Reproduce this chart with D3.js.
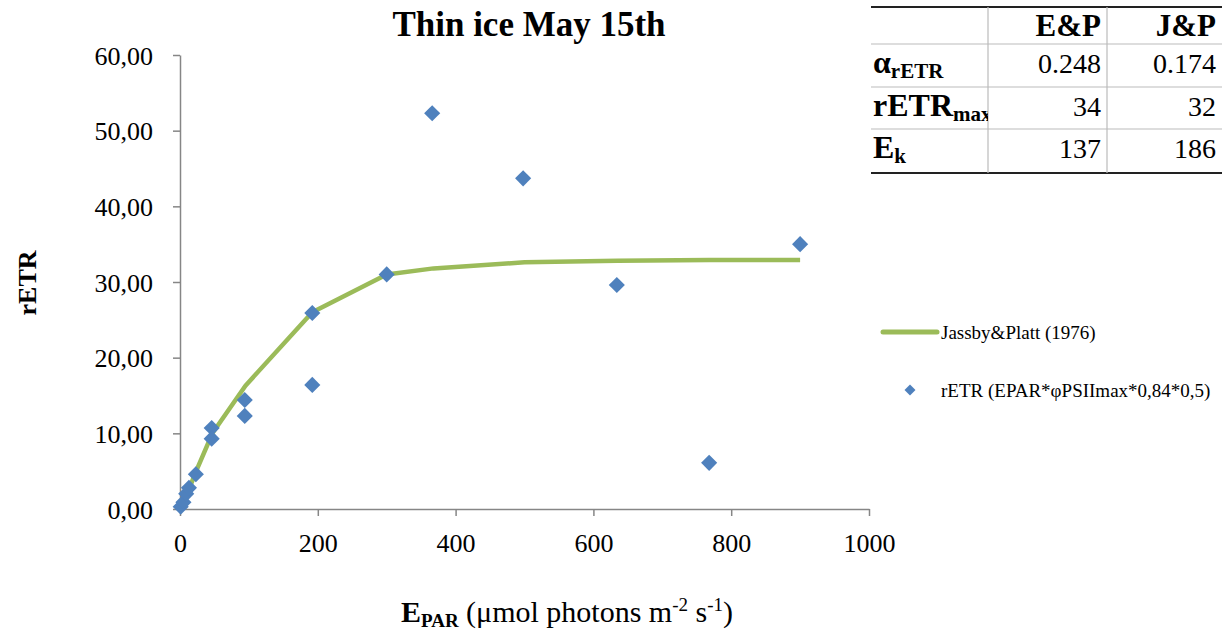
<!DOCTYPE html>
<html>
<head>
<meta charset="utf-8">
<script src="https://cdn.jsdelivr.net/npm/d3@7"></script>
<style>
  body { margin: 0; background: #fff; }
  svg { display: block; font-family: "Liberation Serif", "DejaVu Serif", serif; }
</style>
</head>
<body>
<svg id="chart" width="1230" height="639"></svg>
<script>
// measured points, E_PAR vs rETR
const epar = [1, 5, 9, 13, 23, 46, 46, 94, 94, 192, 192, 300, 366, 498, 634, 768, 900];
const retr = [0.3, 0.9, 2.0, 2.8, 4.6, 10.7, 9.3, 14.4, 12.3, 25.9, 16.4, 31.0, 52.3, 43.7, 29.6, 6.1, 35.0];

// Jassby & Platt fit, drawn at the measured light levels
const fitX = [0, 5, 10, 23, 47, 95, 192, 300, 368, 500, 635, 768, 900];
const fitY = [0.2, 1.0, 1.9, 4.9, 10.0, 16.3, 26.0, 31.0, 31.8, 32.6, 32.8, 32.9, 32.9];

const xTicks = [0, 200, 400, 600, 800, 1000];
const yTicks = [0, 10, 20, 30, 40, 50, 60];

// parameter table
const tableCols = ["E&P", "J&P"];
const tableRows = [
  { label: "α", sub: "rETR", vals: ["0.248", "0.174"] },
  { label: "rETR", sub: "max", vals: ["34", "32"] },
  { label: "E", sub: "k", vals: ["137", "186"] }
];

const svg = d3.select("#chart");
const x = d3.scaleLinear().domain([0, 1000]).range([180, 869]);
const y = d3.scaleLinear().domain([0, 60]).range([509, 55]);
const axisColor = "#868686";
const green = "#9BBB59";
const blue = "#4F81BD";

// title
svg.append("text")
  .attr("x", 529).attr("y", 36)
  .attr("text-anchor", "middle")
  .attr("font-size", 35).attr("font-weight", "bold")
  .text("Thin ice May 15th");

// axes
const yAxis = svg.append("g")
  .attr("transform", `translate(${x(0)},0)`)
  .call(d3.axisLeft(y).tickValues(yTicks).tickSize(7).tickSizeOuter(0)
    .tickFormat(d => d3.format(".2f")(d).replace(".", ",")));
yAxis.selectAll("text").attr("font-size", 26).attr("fill", "#000").attr("x", -27).attr("dy", "0.35em")
  .style("font-family", "Liberation Serif");

const xAxis = svg.append("g")
  .attr("transform", `translate(0,${y(0)})`)
  .call(d3.axisBottom(x).tickValues(xTicks).tickSize(7).tickSizeOuter(0).tickFormat(d3.format("d")));
xAxis.selectAll("text").attr("font-size", 26).attr("fill", "#000").attr("y", 43).attr("dy", 0)
  .style("font-family", "Liberation Serif");

[yAxis, xAxis].forEach(g => {
  g.select(".domain").attr("stroke", axisColor).attr("stroke-width", 1.5);
  g.selectAll(".tick line").attr("stroke", axisColor).attr("stroke-width", 1.5);
});

// axis titles
svg.append("text")
  .attr("transform", "translate(36,283) rotate(-90)")
  .attr("text-anchor", "middle")
  .attr("font-size", 26).attr("font-weight", "bold")
  .text("rETR");

const xt = svg.append("text")
  .attr("x", 567).attr("y", 622)
  .attr("text-anchor", "middle")
  .attr("font-size", 30);
xt.append("tspan").attr("font-weight", "bold").text("E");
xt.append("tspan").attr("font-weight", "bold").attr("font-size", 19).attr("dy", 5).text("PAR");
xt.append("tspan").attr("dy", -5).text(" (μmol photons m");
xt.append("tspan").attr("font-size", 19).attr("dy", -11).text("-2");
xt.append("tspan").attr("dy", 11).text(" s");
xt.append("tspan").attr("font-size", 19).attr("dy", -11).text("-1");
xt.append("tspan").attr("dy", 11).text(")");

// fit line
const line = d3.line().x(d => x(d[0])).y(d => y(d[1]));
svg.append("path")
  .datum(d3.zip(fitX, fitY))
  .attr("d", line)
  .attr("fill", "none")
  .attr("stroke", green)
  .attr("stroke-width", 4.5)
  .attr("stroke-linejoin", "round");

// diamonds
const diamond = d3.symbol().type(d3.symbolSquare).size(130);
svg.append("g").selectAll("path")
  .data(d3.zip(epar, retr))
  .join("path")
  .attr("d", diamond)
  .attr("transform", d => `translate(${x(d[0])},${y(d[1])}) rotate(45)`)
  .attr("fill", blue);

// legend
const lg = svg.append("g");
lg.append("line")
  .attr("x1", 883).attr("x2", 937).attr("y1", 332).attr("y2", 332)
  .attr("stroke", green).attr("stroke-width", 5).attr("stroke-linecap", "round");
lg.append("text").attr("x", 941).attr("y", 332).attr("dy", "0.35em")
  .attr("font-size", 19).text("Jassby&Platt (1976)");
lg.append("path")
  .attr("d", d3.symbol().type(d3.symbolSquare).size(60))
  .attr("transform", "translate(910,390) rotate(45)")
  .attr("fill", blue);
lg.append("text").attr("x", 941).attr("y", 390).attr("dy", "0.35em")
  .attr("font-size", 19).text("rETR (EPAR*φPSIImax*0,84*0,5)");

// table
const colEdges = [871, 988, 1107, 1222];
const rowEdges = [7, 44, 87, 129, 173];
const tg = svg.append("g");
tg.selectAll("line.h")
  .data(rowEdges)
  .join("line")
  .attr("x1", colEdges[0]).attr("x2", colEdges[3])
  .attr("y1", d => d).attr("y2", d => d)
  .attr("stroke", (d, i) => (i === 0 || i === rowEdges.length - 1) ? "#222" : "#bbb")
  .attr("stroke-width", (d, i) => (i === 0 || i === rowEdges.length - 1) ? 2 : 1.2);
tg.selectAll("line.v")
  .data(colEdges.slice(1, 3))
  .join("line")
  .attr("x1", d => d).attr("x2", d => d)
  .attr("y1", rowEdges[0]).attr("y2", rowEdges[4])
  .attr("stroke", "#bbb").attr("stroke-width", 1.2);

tg.selectAll("text.head")
  .data(tableCols)
  .join("text")
  .attr("x", (d, i) => colEdges[i + 2] - 6)
  .attr("y", 36)
  .attr("text-anchor", "end")
  .attr("font-size", 31).attr("font-weight", "bold")
  .text(d => d);

svg.append("clipPath").attr("id", "labclip")
  .append("rect").attr("x", colEdges[0]).attr("y", 0).attr("width", colEdges[1] - colEdges[0]).attr("height", 200);

tableRows.forEach((r, i) => {
  const base = rowEdges[i + 1] + 29;
  const t = tg.append("text")
    .attr("x", colEdges[0] + 2).attr("y", base)
    .attr("clip-path", "url(#labclip)")
    .attr("font-size", 32).attr("font-weight", "bold");
  t.append("tspan").text(r.label);
  t.append("tspan").attr("font-size", 21).attr("dy", 5).text(r.sub);
  r.vals.forEach((v, j) => {
    tg.append("text")
      .attr("x", colEdges[j + 2] - 6).attr("y", base)
      .attr("text-anchor", "end")
      .attr("font-size", 28)
      .text(v);
  });
});
</script>
</body>
</html>
